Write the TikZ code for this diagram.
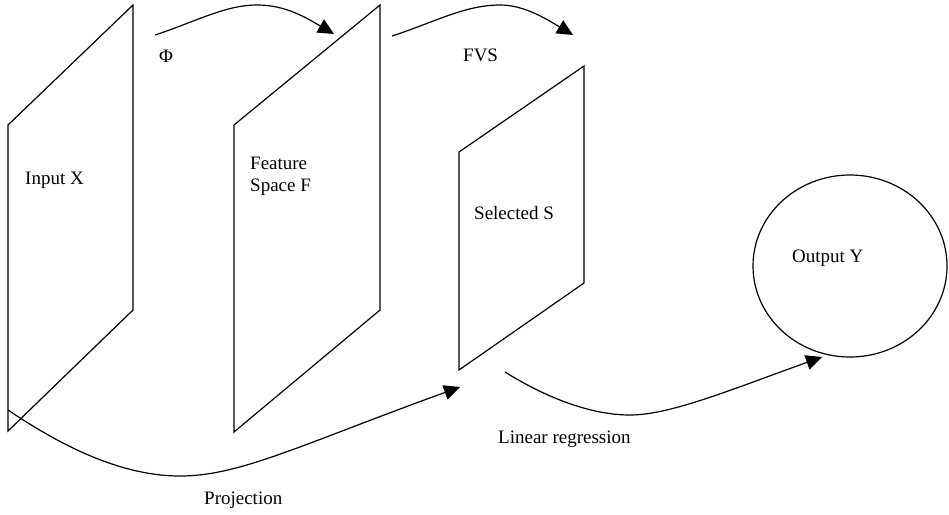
\documentclass[tikz,border=0pt]{standalone}
\usepackage{fontspec}
\setmainfont{Liberation Serif}
\usetikzlibrary{arrows.meta}
\begin{document}
\begin{tikzpicture}[x=1pt,y=-1pt,
  edge/.style={line width=1.2pt, line join=miter},
  conn/.style={line width=1.2pt, -{Triangle[length=16pt,width=15pt]}},
  lbl/.style={inner sep=0pt, anchor=base west, font=\fontsize{19}{22}\selectfont}]
\useasboundingbox (0,0) rectangle (949,514);
% planes
\draw[edge] (8,125) -- (133,5) -- (133,310) -- (8,431) -- cycle;
\draw[edge] (234,125) -- (380,5) -- (380,310) -- (234,432) -- cycle;
\draw[edge] (459,152) -- (584,66) -- (584,283) -- (459,370) -- cycle;
\draw[edge] (850,266) ellipse [x radius=97, y radius=91];
% labels
\node[lbl] (inx) at (25,184) {Input X};
\node[lbl] (fs1) at (250,169) {Feature};
\node[lbl] (fs2) at (250,191) {Space F};
\node[lbl] (sel) at (474,219) {Selected S};
\node[lbl] (outy) at (792,262) {Output Y};
\node[lbl] (phi) at (159,62) {Φ};
\node[lbl] (fvs) at (463,61) {FVS};
\node[lbl] (proj) at (204,504) {Projection};
\node[lbl] (linreg) at (498,443) {Linear regression};
% connector ends
\coordinate (phiS) at (155,35);
\coordinate (phiM) at (257,5);
\coordinate (phiE) at (334,34);
\coordinate (fvsS) at (392,36);
\coordinate (fvsM) at (500,5);
\coordinate (fvsE) at (573,35);
\coordinate (prS) at (8,410);
\coordinate (prM) at (180,476);
\coordinate (prE) at (460,387);
\coordinate (lrS) at (505,372);
\coordinate (lrM) at (630,415);
\coordinate (lrE) at (822,357);
% connectors
\draw[conn] (phiS) .. controls (195,22) and (225,5) .. (phiM) .. controls (285,5) and (305,17) .. (phiE);
\draw[conn] (fvsS) .. controls (435,22) and (465,5) .. (fvsM) .. controls (525,5) and (548,20) .. (fvsE);
\draw[conn] (prS) .. controls (60,445) and (120,476) .. (prM) .. controls (240,476) and (300,445) .. (prE);
\draw[conn] (lrS) .. controls (545,397) and (590,415) .. (lrM) .. controls (670,415) and (730,390) .. (lrE);
\end{tikzpicture}
\end{document}
